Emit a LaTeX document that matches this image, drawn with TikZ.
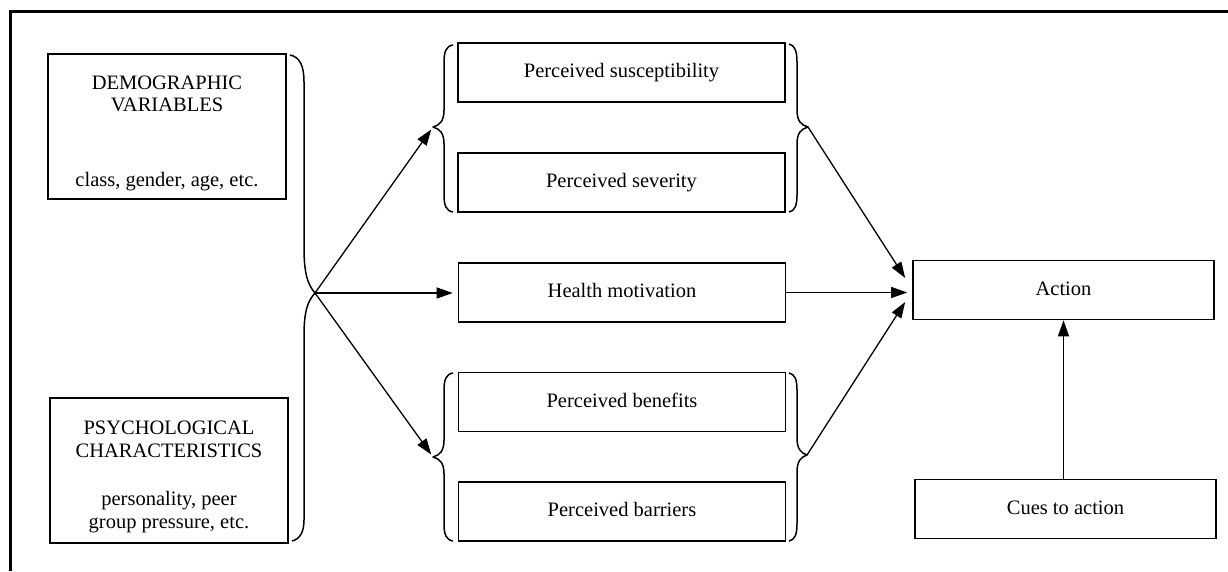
\documentclass[tikz,border=0pt]{standalone}
\usepackage{fontspec}
\setmainfont{Liberation Serif}
\usetikzlibrary{arrows.meta}

\begin{document}
\begin{tikzpicture}[x=1pt,y=-1pt,
  every node/.style={font=\fontsize{20.5}{24}\selectfont},
  box/.style={draw, line width=1.6pt, inner sep=0pt, text height=14pt, text depth=4pt},
  wide/.style={box, minimum width=327pt, minimum height=59pt},
  side/.style={box, minimum width=238pt, minimum height=145pt},
  endbox/.style={box, minimum width=301pt, minimum height=59pt},
  lbl/.style={inner sep=0pt, anchor=base},
  arr/.style={-{Triangle[length=16pt,width=11pt]}, line width=1.3pt},
  brc/.style={line width=1.5pt, line join=round}]

\useasboundingbox (0,0) rectangle (1228,571);

% frame
\draw[line width=3pt] (10,571) -- (10,11) -- (1228,11);

% left-hand boxes
\node[side] (demo) at (167,126.5) {};
\node[lbl] (demoA) at (167,89) {DEMOGRAPHIC};
\node[lbl] (demoB) at (167,111) {VARIABLES};
\node[lbl] (demoC) at (167,186) {class, gender, age, etc.};

\node[side] (psych) at (169,470.5) {};
\node[lbl] (psychA) at (169,434) {PSYCHOLOGICAL};
\node[lbl] (psychB) at (169,457) {CHARACTERISTICS};
\node[lbl] (psychC) at (169,505) {personality, peer};
\node[lbl] (psychD) at (169,528) {group pressure, etc.};

% middle column
\node[wide] (susc) at (621.5,72.5)  {Perceived susceptibility};
\node[wide] (sev)  at (621.5,182.5) {Perceived severity};
\node[wide] (mot)  at (622,292.5)   {Health motivation};
\node[wide] (ben)  at (622,402)     {Perceived benefits};
\node[wide] (bar)  at (622,511.5)   {Perceived barriers};

% right column
\node[endbox] (act)  at (1063.5,290) {Action};
\node[endbox] (cues) at (1065.5,509) {Cues to action};

% brace tips
\coordinate (bigtip) at (315,293);
\coordinate (ltipA) at (433,127);
\coordinate (rtipA) at (808,127);
\coordinate (ltipB) at (433,457);
\coordinate (rtipB) at (807,455);

% large brace joining the two left boxes
\draw[brc] (290,55) .. controls (300,57) and (304,66) .. (304,82)
  -- (304,248) .. controls (304,274) and (308,285) .. (bigtip)
  .. controls (308,301) and (304,310) .. (304,336)
  -- (304,520) .. controls (304,532) and (300,539) .. (292,541);

% braces round the upper pair
\draw[brc] (453,45) .. controls (446,46) and (444,52) .. (444,62)
  -- (444,110) .. controls (444,121) and (440,125) .. (ltipA)
  .. controls (440,129) and (444,133) .. (444,144)
  -- (444,195) .. controls (444,205) and (446,211) .. (453,212);
\draw[brc] (789,44) .. controls (795,45) and (797,52) .. (797,62)
  -- (797,110) .. controls (797,121) and (801,125) .. (rtipA)
  .. controls (801,129) and (797,133) .. (797,144)
  -- (797,195) .. controls (797,205) and (795,211) .. (789,212);

% braces round the lower pair
\draw[brc] (453,373) .. controls (446,374) and (444,380) .. (444,390)
  -- (444,440) .. controls (444,451) and (440,455) .. (ltipB)
  .. controls (440,459) and (444,463) .. (444,474)
  -- (444,524) .. controls (444,534) and (446,540) .. (453,541);
\draw[brc] (789,373) .. controls (795,374) and (797,380) .. (797,390)
  -- (797,438) .. controls (797,449) and (801,453) .. (rtipB)
  .. controls (801,457) and (797,461) .. (797,472)
  -- (797,524) .. controls (797,534) and (795,540) .. (789,541);

% connectors
\draw[arr, shorten >=3pt] (bigtip) -- (ltipA);
\draw[arr, shorten >=5pt] (bigtip) -- (bigtip -| mot.west);
\draw[arr, shorten >=3pt] (bigtip) -- (ltipB);

\draw[arr] (rtipA) -- ([shift={(-7,-12)}]act.west);
\draw[arr] (mot.east) -- ([xshift=-5pt]act.west |- mot.east);
\draw[arr] (rtipB) -- ([shift={(-7,12)}]act.west);
\draw[arr] (cues.north -| act.south) -- (act.south);

\end{tikzpicture}
\end{document}
